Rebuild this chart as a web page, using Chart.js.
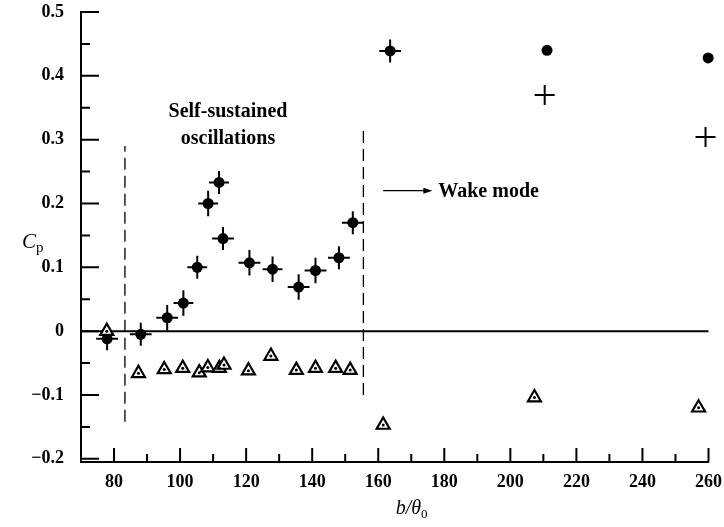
<!DOCTYPE html>
<html>
<head>
<meta charset="utf-8">
<script src="https://cdn.jsdelivr.net/npm/chart.js@4.4.1/dist/chart.umd.min.js"></script>
<style>
  html, body { margin: 0; padding: 0; background: #fff; }
  #wrap { width: 724px; height: 527px; }
</style>
</head>
<body>
<div id="wrap"><canvas id="cpChart"></canvas></div>
<script>
/* ── DADOS ── */
const xTicks = [80, 100, 120, 140, 160, 180, 200, 220, 240, 260];
const xMinor = [90, 110, 130, 150, 170, 190, 210, 230, 250];
const yTicks = [-0.2, -0.1, 0, 0.1, 0.2, 0.3, 0.4, 0.5];
const yMinor = [-0.15, -0.05, 0.05, 0.15, 0.25, 0.35, 0.45];

// filled circles with error crosses
const oscX = [77.9, 88.1, 96.1, 101.0, 105.2, 108.5, 111.8, 113.0, 121.0, 128.0, 135.9, 141.0, 148.1, 152.3, 163.6];
const oscY = [-0.012, -0.005, 0.021, 0.044, 0.100, 0.200, 0.233, 0.145, 0.107, 0.097, 0.069, 0.095, 0.115, 0.170, 0.439];
const oscXErr = [3.3, 3.3, 3.3, 3.0, 3.0, 3.0, 3.0, 3.3, 3.3, 3.0, 3.3, 3.3, 3.3, 3.3, 3.3];
const oscYErr = [0.018, 0.018, 0.020, 0.020, 0.018, 0.020, 0.018, 0.018, 0.020, 0.020, 0.020, 0.020, 0.018, 0.018, 0.018];

// open triangles
const triX = [77.8, 87.4, 95.2, 100.8, 105.8, 108.4, 111.9, 113.3, 120.7, 127.5, 135.2, 141.0, 147.1, 151.5, 161.5, 207.3, 257.0];
const triY = [0.000, -0.066, -0.060, -0.058, -0.065, -0.057, -0.058, -0.053, -0.062, -0.039, -0.061, -0.058, -0.058, -0.061, -0.147, -0.104, -0.120];

// wake mode
const dotX = [211.1, 259.9];
const dotY = [0.440, 0.428];
const plusX = [210.4, 259.1];
const plusY = [0.370, 0.304];

// regime boundaries
const leftBoundX = 83.3;
const leftBoundY = [-0.142, 0.29];
const rightBoundX = 155.5;
const rightBoundY = [-0.100, 0.32];

const serif = "'Liberation Serif', 'DejaVu Serif', serif";

function pts(xs, ys) {
    return xs.map((x, i) => ({ x, y: ys[i] }));
}

/* ── PLUGIN: marcas, barras de erro, textos ── */
const figurePlugin = {
    id: 'figure',
    beforeDatasetsDraw(chart) {
        const ctx = chart.ctx;
        const xs = chart.scales.x;
        const ys = chart.scales.y;
        const meta = chart.getDatasetMeta(3);

        ctx.save();
        ctx.strokeStyle = '#000';
        ctx.lineWidth = 2;
        meta.data.forEach((el, i) => {
            const x0 = xs.getPixelForValue(oscX[i] - oscXErr[i]);
            const x1 = xs.getPixelForValue(oscX[i] + oscXErr[i]);
            const y0 = ys.getPixelForValue(oscY[i] - oscYErr[i]);
            const y1 = ys.getPixelForValue(oscY[i] + oscYErr[i]);
            ctx.beginPath();
            ctx.moveTo(x0, el.y); ctx.lineTo(x1, el.y);
            ctx.moveTo(el.x, y0); ctx.lineTo(el.x, y1);
            ctx.stroke();
        });
        ctx.restore();
    },
    afterDraw(chart) {
        const ctx = chart.ctx;
        const xs = chart.scales.x;
        const ys = chart.scales.y;
        const area = chart.chartArea;

        ctx.save();
        ctx.strokeStyle = '#000';
        ctx.fillStyle = '#000';

        // inward ticks
        ctx.lineWidth = 2;
        ctx.beginPath();
        yTicks.forEach(v => {
            const p = ys.getPixelForValue(v);
            ctx.moveTo(area.left, p); ctx.lineTo(area.left + 18, p);
        });
        yMinor.forEach(v => {
            const p = ys.getPixelForValue(v);
            ctx.moveTo(area.left, p); ctx.lineTo(area.left + 9, p);
        });
        xTicks.forEach(v => {
            const p = xs.getPixelForValue(v);
            ctx.moveTo(p, area.bottom); ctx.lineTo(p, area.bottom - 14);
        });
        xMinor.forEach(v => {
            const p = xs.getPixelForValue(v);
            ctx.moveTo(p, area.bottom); ctx.lineTo(p, area.bottom - 8);
        });
        ctx.stroke();

        // annotations
        ctx.textAlign = 'center';
        ctx.textBaseline = 'middle';
        ctx.font = 'bold 20px ' + serif;
        ctx.fillText('Self-sustained', xs.getPixelForValue(114.5), ys.getPixelForValue(0.343));
        ctx.fillText('oscillations', xs.getPixelForValue(114.5), ys.getPixelForValue(0.302));

        ctx.textAlign = 'left';
        ctx.fillText('Wake mode', xs.getPixelForValue(178.2), ys.getPixelForValue(0.219));

        const ay = ys.getPixelForValue(0.220);
        const ax0 = xs.getPixelForValue(161.5);
        const ax1 = xs.getPixelForValue(176.4);
        ctx.lineWidth = 1.2;
        ctx.beginPath();
        ctx.moveTo(ax0, ay); ctx.lineTo(ax1 - 6, ay);
        ctx.stroke();
        ctx.beginPath();
        ctx.moveTo(ax1, ay); ctx.lineTo(ax1 - 9, ay - 3); ctx.lineTo(ax1 - 9, ay + 3);
        ctx.closePath();
        ctx.fill();

        // axis titles
        ctx.textAlign = 'left';
        ctx.textBaseline = 'alphabetic';
        ctx.font = 'italic 21px ' + serif;
        ctx.fillText('C', area.left - 59, ys.getPixelForValue(0.13));
        ctx.font = '15px ' + serif;
        ctx.fillText('p', area.left - 45, ys.getPixelForValue(0.13) + 4);

        ctx.font = 'italic 20px ' + serif;
        const bx = xs.getPixelForValue(165.3);
        ctx.fillText('b/\u03B8', bx, 514);
        const bw = ctx.measureText('b/\u03B8').width;
        ctx.font = '13px ' + serif;
        ctx.fillText('0', bx + bw, 518);

        ctx.restore();
    }
};

/* ── GRÁFICO ── */
const cpChart = new Chart(document.getElementById('cpChart'), {
    type: 'scatter',
    data: {
        datasets: [
            {
                data: [{ x: 70, y: 0 }, { x: 260, y: 0 }],
                showLine: true,
                borderColor: '#000',
                borderWidth: 2,
                pointRadius: 0,
                order: 5
            },
            {
                data: [{ x: leftBoundX, y: leftBoundY[0] }, { x: leftBoundX, y: leftBoundY[1] }],
                showLine: true,
                borderColor: '#000',
                borderWidth: 1.3,
                borderDash: [12, 6],
                pointRadius: 0,
                order: 5
            },
            {
                data: [{ x: rightBoundX, y: rightBoundY[0] }, { x: rightBoundX, y: rightBoundY[1] }],
                showLine: true,
                borderColor: '#000',
                borderWidth: 1.3,
                borderDash: [12, 6],
                pointRadius: 0,
                order: 5
            },
            {
                data: pts(oscX, oscY),
                pointStyle: 'circle',
                pointRadius: 5.5,
                backgroundColor: '#000',
                borderColor: '#000',
                borderWidth: 0,
                order: 2
            },
            {
                data: pts(triX, triY),
                pointStyle: 'triangle',
                pointRadius: 7.5,
                backgroundColor: '#fff',
                borderColor: '#000',
                borderWidth: 2.2,
                order: 1
            },
            {
                data: pts(triX, triY),
                pointStyle: 'circle',
                pointRadius: 1.5,
                backgroundColor: '#000',
                borderColor: '#000',
                borderWidth: 0,
                order: 0
            },
            {
                data: pts(dotX, dotY),
                pointStyle: 'circle',
                pointRadius: 5.5,
                backgroundColor: '#000',
                borderWidth: 0,
                order: 2
            },
            {
                data: pts(plusX, plusY),
                pointStyle: 'cross',
                pointRadius: 10,
                borderColor: '#000',
                borderWidth: 2,
                order: 2
            }
        ]
    },
    options: {
        responsive: true,
        maintainAspectRatio: false,
        animation: false,
        events: [],
        clip: false,
        datasets: {
            scatter: { clip: false }
        },
        layout: {
            padding: { left: 0, right: 10, top: 11, bottom: 0 }
        },
        plugins: {
            legend: { display: false },
            tooltip: { enabled: false }
        },
        scales: {
            x: {
                type: 'linear',
                min: 70,
                max: 260,
                border: { display: true, color: '#000', width: 2 },
                grid: { display: false },
                ticks: {
                    color: '#000',
                    padding: 2,
                    maxRotation: 0,
                    font: { family: serif, size: 18, weight: 'bold' }
                },
                afterBuildTicks: s => { s.ticks = xTicks.map(v => ({ value: v })); },
                afterFit: s => { s.height = 65; }
            },
            y: {
                type: 'linear',
                min: -0.205,
                max: 0.5,
                border: { display: true, color: '#000', width: 2 },
                grid: { display: false },
                ticks: {
                    color: '#000',
                    padding: 9,
                    font: { family: serif, size: 18, weight: 'bold' },
                    callback: v => {
                        if (Math.abs(v) < 1e-9) return '0';
                        return (v < 0 ? '\u2212' : '') + Math.abs(v).toFixed(1);
                    }
                },
                afterBuildTicks: s => { s.ticks = yTicks.map(v => ({ value: v })); },
                afterFit: s => { s.width = 81; s.paddingTop = 0; s.paddingBottom = 0; }
            }
        }
    },
    plugins: [figurePlugin]
});
</script>
</body>
</html>
